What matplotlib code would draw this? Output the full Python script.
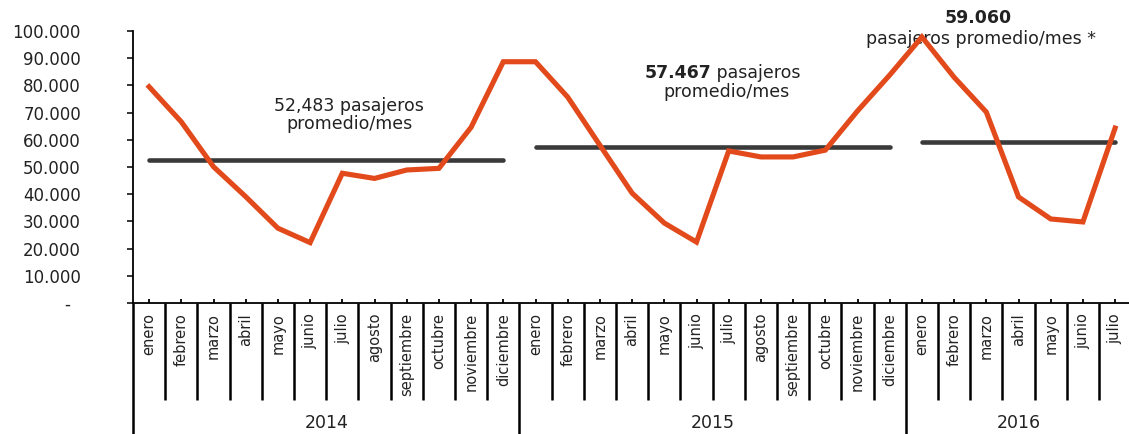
import matplotlib
matplotlib.use("Agg")
import matplotlib.pyplot as plt
import numpy as np

# ---- data ----
months = ["enero", "febrero", "marzo", "abril", "mayo", "junio", "julio",
          "agosto", "septiembre", "octubre", "noviembre", "diciembre"]
years = ["2014", "2015", "2016"]
months_per_year = [12, 12, 7]

pasajeros_2014 = [79500, 66600, 50100, 39100, 27500, 22200, 47700, 45800, 48900, 49500, 64600, 88700]
pasajeros_2015 = [88700, 75700, 58000, 40400, 29400, 22400, 55900, 53700, 53700, 56200, 70600, 83800]
pasajeros_2016 = [97800, 83000, 70200, 39000, 30900, 29800, 64300]

promedios = [52483, 57467, 59060]

ytick_values = [0, 10000, 20000, 30000, 40000, 50000, 60000, 70000, 80000, 90000, 100000]
ytick_labels = ["-  ", "10.000", "20.000", "30.000", "40.000", "50.000",
                "60.000", "70.000", "80.000", "90.000", "100.000"]

# ---- build ----
series = pasajeros_2014 + pasajeros_2015 + pasajeros_2016
labels = []
for n in months_per_year:
    labels += months[:n]
x = np.arange(len(series))

plt.rcParams['font.family'] = ['DejaVu Sans']
TXT = '#222222'
RED = '#E2491B'
DARK = '#3A3A3A'

fig = plt.figure(figsize=(11.29, 4.34), dpi=100)
W, H = 1129, 434
ax = fig.add_axes([133 / W, (H - 303) / H, 31 * 32.2 / W, 272 / H])

ax.plot(x, series, color=RED, lw=3.7, solid_joinstyle='miter', zorder=3)

start = 0
for n, p in zip(months_per_year, promedios):
    ax.plot([x[start], x[start + n - 1]], [p, p], color=DARK, lw=3.3,
            solid_capstyle='round', zorder=2)
    start += n

ax.set_xlim(-0.5, 30.5)
ax.set_ylim(0, 100000)

for s in ['top', 'right']:
    ax.spines[s].set_visible(False)
for s in ['left', 'bottom']:
    ax.spines[s].set_linewidth(1.3)
    ax.spines[s].set_color('black')

ax.set_yticks(ytick_values)
ax.set_yticklabels(ytick_labels)
ax.tick_params(axis='y', direction='out', length=4.5, width=1.1, pad=33,
               labelsize=12, labelcolor=TXT)
ax.set_xticks(x)
ax.set_xticklabels([])
ax.tick_params(axis='x', direction='in', length=3, width=1.3)

tr = ax.get_xaxis_transform()
ax_h = 272.0
# month labels
for xi, lab in zip(x, labels):
    ax.text(xi, -10 / ax_h, lab, rotation=90, ha='center', va='top',
            fontsize=10.5, color=TXT, transform=tr, clip_on=False)
# separators
boundaries = []
start = 0
for n in months_per_year:
    boundaries.append(start - 0.5)
    start += n
for b in np.arange(-0.5, len(series) - 1, 1.0):
    y_end = -(434 - 303) / ax_h if b in boundaries else -(400 - 303) / ax_h
    ax.plot([b, b], [0, y_end], color='black', lw=1.8, transform=tr,
            clip_on=False, solid_capstyle='butt')
# year labels
start = 0
for n, yr in zip(months_per_year, years):
    left = start - 0.5
    right = min(start + n - 0.5, 30.5)
    if n < 12:
        right = 30.5
    ax.text((left + right) / 2, -(423 - 303) / ax_h, yr, ha='center', va='center',
            fontsize=12.5, color=TXT, transform=tr, clip_on=False)
    start += n

# annotations
ax.text(6.21, 69100, "52,483 pasajeros\npromedio/mes", ha='center', va='center',
        fontsize=12.5, color=TXT, linespacing=0.95)
ax.text(17.45, 84600, "57.467", ha='right', va='center', fontsize=12.5,
        fontweight='bold', color=TXT)
ax.text(17.45, 84600, " pasajeros", ha='left', va='center', fontsize=12.5, color=TXT)
ax.text(17.92, 77600, "promedio/mes", ha='center', va='center', fontsize=12.5, color=TXT)
ax.text(25.75, 104800, "59.060", ha='center', va='center', fontsize=12.5,
        fontweight='bold', color=TXT, clip_on=False)
ax.text(25.84, 97100, "pasajeros promedio/mes *", ha='center', va='center',
        fontsize=12.5, color=TXT, clip_on=False, zorder=1)

fig.savefig("out.png", dpi=100)
